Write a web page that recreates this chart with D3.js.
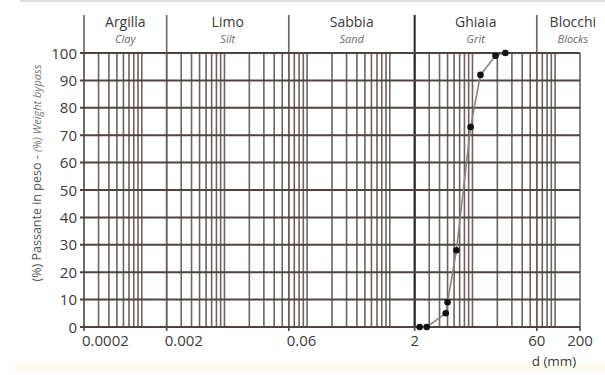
<!DOCTYPE html>
<html><head><meta charset="utf-8">
<script src="https://cdn.jsdelivr.net/npm/d3@7"></script>
<style>
html,body{margin:0;padding:0;background:#fff;}
svg{display:block;font-family:"Open Sans",sans-serif;}
</style></head>
<body>
<svg id="c" width="605" height="375"></svg>
<script>
// Data
const sizes = [2.3, 2.8, 4.75, 5.0, 6.4, 9.5, 12.5, 19, 25];          // d (mm)
const passing = [0, 0, 5, 9, 28, 73, 92, 99, 100];                   // % passing
const bounds = [0.0002, 0.002, 0.06, 2, 60, 200];                     // class limits
const classNames = ["Argilla", "Limo", "Sabbia", "Ghiaia", "Blocchi"];
const classNamesEn = ["Clay", "Silt", "Sand", "Grit", "Blocks"];
const xTickLabels = ["0.0002", "0.002", "0.06", "2", "60", "200"];
const yTicks = [0, 10, 20, 30, 40, 50, 60, 70, 80, 90, 100];

const W = 605;
const svg = d3.select("#c");
const x = d3.scaleLog().domain([0.0002, 200]).range([84, 580]);
const y = d3.scaleLinear().domain([0, 100]).range([327, 53]);

const gridCol = "#6e6360";
const hCol = "#4d4442";

// top light rule
svg.append("line").attr("x1", 20).attr("x2", W).attr("y1", 1).attr("y2", 1)
  .attr("stroke", "#dcdcdc").attr("stroke-width", 2);
// faint yellow band at bottom
svg.append("rect").attr("x", 15).attr("y", 363).attr("width", W - 15).attr("height", 10)
  .attr("fill", "#fefcf1");

// vertical log grid
const vt = x.ticks().filter(v => v >= 0.0002 * 0.999 && v <= 200 * 1.001);
svg.append("g").selectAll("line").data(vt).join("line")
  .attr("x1", d => x(d)).attr("x2", d => x(d))
  .attr("y1", y(100)).attr("y2", y(0))
  .attr("stroke", gridCol).attr("stroke-width", 1.6);

// class boundary lines extending above
svg.append("g").selectAll("line").data(bounds.slice(0, 5)).join("line")
  .attr("x1", d => x(d)).attr("x2", d => x(d))
  .attr("y1", 15).attr("y2", y(0))
  .attr("stroke", d => d === 2 ? "#222" : gridCol)
  .attr("stroke-width", d => d === 2 ? 2 : 1.6);

// horizontal grid + y ticks
svg.append("g").selectAll("line").data(yTicks).join("line")
  .attr("x1", x(0.0002) - 4).attr("x2", x(200))
  .attr("y1", d => y(d)).attr("y2", d => y(d))
  .attr("stroke", hCol).attr("stroke-width", 2);

// y tick labels
svg.append("g").selectAll("text").data(yTicks).join("text")
  .attr("x", 77).attr("y", d => y(d) + 5.5)
  .attr("text-anchor", "end").attr("font-size", 15).attr("fill", "#3a3a3a")
  .text(d => d);

// x ticks
svg.append("g").selectAll("line").data(bounds).join("line")
  .attr("x1", d => x(d)).attr("x2", d => x(d))
  .attr("y1", y(0)).attr("y2", y(0) + 4)
  .attr("stroke", hCol).attr("stroke-width", 1.6);
svg.append("g").selectAll("text").data(bounds).join("text")
  .attr("x", d => d < 1 ? x(d) - 2 : x(d))
  .attr("y", 346)
  .attr("text-anchor", d => d < 1 ? "start" : "middle")
  .attr("font-size", 15).attr("fill", "#3a3a3a")
  .text((d, i) => xTickLabels[i]);
svg.append("text").attr("x", 554).attr("y", 366).attr("text-anchor", "middle")
  .attr("font-size", 13.5).attr("fill", "#3a3a3a").text("d (mm)");

// class labels (last class spans to the page edge)
const cls = classNames.map((n, i) => {
  const a = x(bounds[i]);
  const b = i === classNames.length - 1 ? W + 4 : x(bounds[i + 1]);
  return {n, e: classNamesEn[i], c: (a + b) / 2};
});
svg.append("g").selectAll("text").data(cls).join("text")
  .attr("x", d => d.c).attr("y", 27)
  .attr("text-anchor", "middle").attr("font-size", 14).attr("fill", "#3a3a3a")
  .text(d => d.n);
svg.append("g").selectAll("text").data(cls).join("text")
  .attr("x", d => d.c).attr("y", 43)
  .attr("text-anchor", "middle").attr("font-size", 11).attr("font-style", "italic")
  .attr("fill", "#6a6a6a")
  .text(d => d.e);

// y axis title
const yt = svg.append("text").attr("transform", "translate(41,173) rotate(-90)")
  .attr("text-anchor", "middle").attr("fill", "#555");
yt.append("tspan").attr("font-size", 12.5).text("(%) Passante in peso - ");
yt.append("tspan").attr("font-size", 11).attr("font-style", "italic").attr("fill", "#777").text("(%) Weight bypass");

// curve
const pts = sizes.map((s, i) => [s, passing[i]]);
svg.append("path").datum(pts)
  .attr("d", d3.line().x(d => x(d[0])).y(d => y(d[1])))
  .attr("fill", "none").attr("stroke", "#8d8482").attr("stroke-width", 1.6);
svg.append("g").selectAll("circle").data(pts).join("circle")
  .attr("cx", d => x(d[0])).attr("cy", d => y(d[1])).attr("r", 3.3)
  .attr("fill", "#111");
</script>
</body></html>
